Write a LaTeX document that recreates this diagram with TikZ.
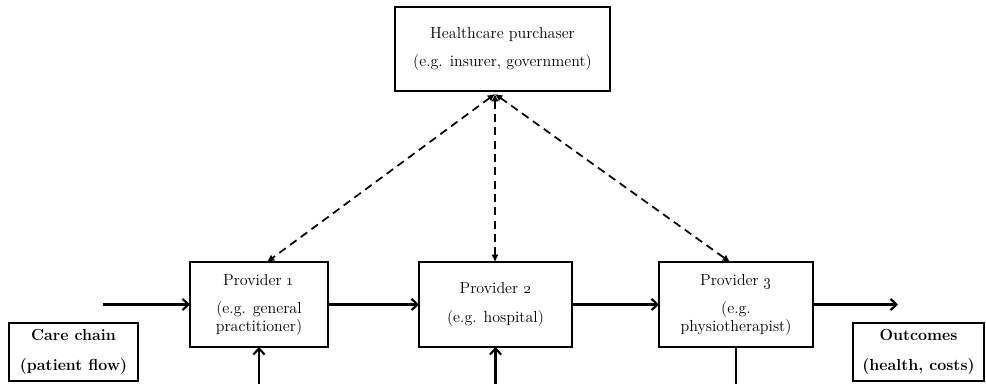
\documentclass[tikz,border=0pt]{standalone}
\usepackage{tikz}
\usetikzlibrary{positioning,arrows.meta,calc}

\tikzset{
  box/.style={draw, line width=1pt, inner sep=0pt, outer sep=0pt, align=center,
    font=\fontsize{12}{12}\selectfont},
  provbox/.style={box, minimum height=63.75pt},
  endbox/.style={box, minimum height=43.5pt, font=\fontsize{12}{12}\selectfont\bfseries},
  flow/.style={line width=1.6pt, -{Straight Barb[length=4.5pt,width=8.5pt]}},
  plain/.style={line width=1.6pt},
  link/.style={line width=1.3pt, dash pattern=on 6pt off 4pt,
    {Latex[length=5.5pt,width=5.5pt]}-{Latex[length=5.5pt,width=5.5pt]}}
}

\begin{document}
\begin{tikzpicture}[x=0.75pt, y=-0.75pt]
        \useasboundingbox (0,0) rectangle (986,384);

        \node[box, minimum width=161.25pt, minimum height=63pt] (purchaser) at (502.5, 49)
            {Healthcare purchaser\\[9.5pt](e.g. insurer, government)};
        \node[provbox, minimum width=103.5pt] (prov1) at (259, 304.5)
            {Provider \oldstylenums{1}\\[9.5pt](e.g. general\\practitioner)};
        \node[provbox, minimum width=114.75pt] (prov2) at (495.5, 304.5)
            {Provider \oldstylenums{2}\\[9.5pt](e.g. hospital)};
        \node[provbox, minimum width=115.5pt] (prov3) at (736, 304.5)
            {Provider \oldstylenums{3}\\[9.5pt](e.g.\\physiotherapist)};
        \node[endbox, minimum width=96.75pt] (chain) at (73.5, 352)
            {Care chain\\[10pt](patient flow)};
        \node[endbox, minimum width=98.25pt] (outcomes) at (918.5, 352)
            {Outcomes\\[10pt](health, costs)};

        \coordinate (hub) at (495, 94);
        \coordinate (in) at (103, 304.5);
        \coordinate (out) at (898, 304.5);
        \coordinate (bot1) at (259, 384);
        \coordinate (bot2) at (495.5, 384);
        \coordinate (bot3) at (736, 384);

        \draw[link] (hub) -- ([xshift=6pt]prov1.north);
        \draw[link] (hub) -- (hub |- prov2.north);
        \draw[link] (hub) -- ([xshift=-4.5pt]prov3.north);

        \draw[flow] (in) -- (prov1);
        \draw[flow] (prov1) -- (prov2);
        \draw[flow] (prov2) -- (prov3);
        \draw[flow] (prov3) -- (out);
        \draw[flow] (bot1) -- (prov1);
        \draw[flow] (bot2) -- (prov2);
        \draw[plain] (prov3) -- (bot3);
    \end{tikzpicture}
\end{document}
